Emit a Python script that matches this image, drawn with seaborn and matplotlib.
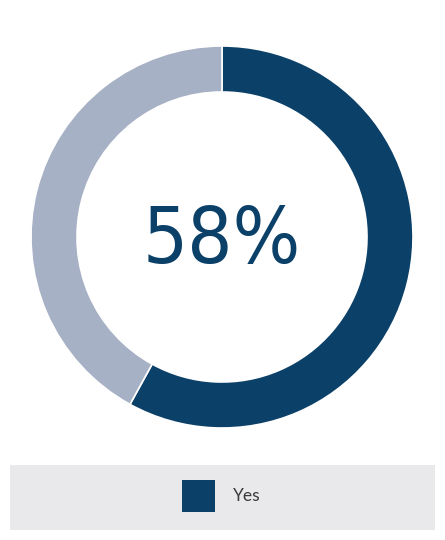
import matplotlib
matplotlib.use("Agg")
import matplotlib.pyplot as plt
import seaborn as sns
from matplotlib.patches import Rectangle

labels = ["Yes", "No"]
values = [58, 42]
colors = ["#0b4068", "#a7b1c5"]
center_label = "58%"

sns.set_theme(style="white")
plt.rcParams['font.family'] = ['Lato', 'DejaVu Sans']

fig = plt.figure(figsize=(4.45, 5.4), dpi=100)

# donut area: centre at (222, 237) px, outer radius ~191 px
ax = fig.add_axes([(222 - 191) / 445, 1 - (237 + 191) / 540, 382 / 445, 382 / 540])
wedges, _ = ax.pie(values, colors=colors, startangle=90, counterclock=False,
                   radius=1.0, wedgeprops=dict(width=46 / 191, edgecolor="white", linewidth=1.2))
ax.set_aspect("equal")
ax.set_xlim(-1, 1)
ax.set_ylim(-1, 1)
ax.axis("off")

ax.text(0, -0.02, center_label, ha="center", va="center", fontsize=57,
        fontstretch="condensed", fontweight="light",
        color=colors[0], family=['DejaVu Sans'])

# legend panel
fig.patches.append(Rectangle((10 / 445, 1 - 530 / 540), 425 / 445, 65 / 540,
                             transform=fig.transFigure, facecolor="#e9e9eb",
                             edgecolor="none", zorder=0))
fig.patches.append(Rectangle((182 / 445, 1 - 512 / 540), 33 / 445, 32 / 540,
                             transform=fig.transFigure, facecolor=colors[0],
                             edgecolor="none", zorder=1))
fig.text(233 / 445, 1 - 496 / 540, labels[0], ha="left", va="center",
         fontsize=12.5, color="#3a3a3a")

fig.savefig("out.png", dpi=100)
